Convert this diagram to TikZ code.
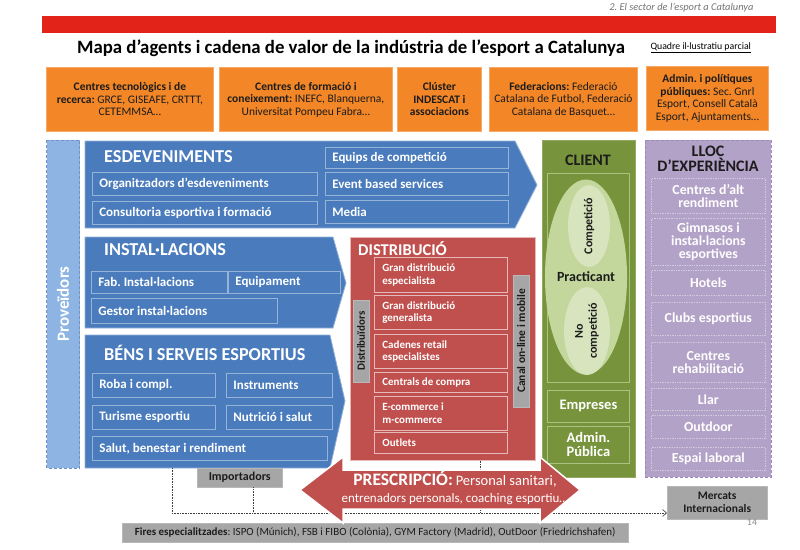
\documentclass[tikz,border=0pt]{standalone}
\usepackage{fontspec}
\setmainfont{Carlito}
\usepackage{xcolor}
\usepackage{tikz}
\usetikzlibrary{calc}
\tikzset{>=latex}
\usetikzlibrary{arrows.meta}
\usetikzlibrary{shapes.geometric}
\frenchspacing

\definecolor{barred}{HTML}{E2231A}
\definecolor{orangefill}{HTML}{F38626}
\definecolor{bluefill}{HTML}{4A7CBD}
\definecolor{blueline}{HTML}{95B3D7}
\definecolor{provfill}{HTML}{8DB4E2}
\definecolor{provline}{HTML}{6F93C6}
\definecolor{redfill}{HTML}{C0504D}
\definecolor{redline}{HTML}{E6B9B8}
\definecolor{greenfill}{HTML}{77933C}
\definecolor{greenline}{HTML}{A9C47F}
\definecolor{greenlight}{HTML}{C3D69B}
\definecolor{greenpale}{HTML}{D7E4BD}
\definecolor{purplefill}{HTML}{B3A2C7}
\definecolor{purpleline}{HTML}{D3CAE0}
\definecolor{purpledash}{HTML}{9C86BB}
\definecolor{greyfill}{HTML}{A6A6A6}
\definecolor{darktext}{HTML}{1C1C1C}

\tikzset{
  orangebox/.style={draw=orangefill!70!white, line width=0.8pt, fill=orangefill, text=darktext, anchor=north west, align=center, inner sep=0pt, font=\fontsize{11.5}{12.5}\selectfont},
  chevron/.style={fill=bluefill, draw=blueline, line width=0.8pt},
  bluetitle/.style={text=white, anchor=west, inner sep=0pt, font=\fontsize{18.2}{19}\selectfont\bfseries},
  bluebox/.style={draw=blueline, line width=0.7pt, text=white, anchor=north west, align=flush left, inner xsep=7pt, inner ysep=0pt, font=\fontsize{13}{14}\selectfont\bfseries},
  redbox/.style={draw=redline, line width=0.7pt, text=white, anchor=north west, align=flush left, inner xsep=8pt, inner ysep=0pt, font=\fontsize{11}{12.5}\selectfont\bfseries},
  greybar/.style={fill=greyfill, draw=greyfill!80!white, text=darktext, inner sep=0pt, font=\fontsize{12}{12}\selectfont\bfseries},
  greenbox/.style={draw=greenline, line width=0.8pt, text=white, anchor=north west, align=center, inner sep=0pt, font=\fontsize{14.5}{14}\selectfont\bfseries},
  purplebox/.style={draw=purpleline, densely dotted, line width=0.7pt, text=white, anchor=north west, align=center, inner sep=0pt, font=\fontsize{13.8}{13.3}\selectfont\bfseries},
  dotline/.style={densely dotted, line width=0.6pt, draw=black!75},
}

\begin{document}
\begin{tikzpicture}[x=1pt,y=-1pt]
\useasboundingbox (0,0) rectangle (800,549);
\fill[white] (0,0) rectangle (800,549);

\node[anchor=east, text=black!55, font=\fontsize{10.4}{11}\selectfont\itshape] (chapter) at (757,8) {2. El sector de l’esport a Catalunya};
\fill[barred] (42,16) rectangle (776,33);
\node[font=\fontsize{18.8}{19}\selectfont\bfseries] (maintitle) at (351,48) {Mapa d’agents i cadena de valor de la indústria de l’esport a Catalunya};
\node[anchor=west, font=\fontsize{9.8}{10}\selectfont] (quadre) at (647,48) {\underline{Quadre il·lustratiu parcial}};

\node[orangebox, minimum width=167, minimum height=64] (recerca) at (46,67) {\textbf{Centres tecnològics i de}\\\textbf{recerca:} GRCE, GISEAFE, CRTTT,\\CETEMMSA…};
\node[orangebox, minimum width=173, minimum height=64] (formacio) at (219,67) {\textbf{Centres de formació i}\\\textbf{coneixement:} INEFC, Blanquerna,\\Universitat Pompeu Fabra…};
\node[orangebox, minimum width=84, minimum height=64] (cluster) at (397,67) {\textbf{Clúster}\\\textbf{INDESCAT i}\\\textbf{associacions}};
\node[orangebox, minimum width=148, minimum height=64] (federacions) at (489,67) {\textbf{Federacions:} Federació\\Catalana de Futbol, Federació\\Catalana de Basquet…};
\node[orangebox, minimum width=122, minimum height=64] (admin) at (646,66) {\textbf{Admin. i polítiques}\\\textbf{públiques:} Sec. Gnrl\\Esport, Consell Català\\Esport, Ajuntaments…};

\node[fill=provfill, draw=provline, densely dashed, line width=0.6pt, rotate=90, minimum width=328, minimum height=33, text=white, font=\fontsize{17}{18}\selectfont\bfseries] (proveidors) at (63,304) {Proveïdors};

\draw[chevron] (85,141) -- (515,141) -- (537,185) -- (515,228) -- (85,228) -- cycle;
\node[bluetitle] (esdeveniments) at (104,157) {ESDEVENIMENTS};
\node[bluebox, minimum width=225, text width=211pt, minimum height=23] (organitzadors) at (92,172) {Organitzadors d’esdeveniments};
\node[bluebox, minimum width=225, text width=211pt, minimum height=23] (consultoria) at (92,201) {Consultoria esportiva i formació};
\node[bluebox, minimum width=183, text width=169pt, minimum height=21] (equips) at (325,147) {Equips de competició};
\node[bluebox, minimum width=183, text width=169pt, minimum height=23] (eventbased) at (325,172) {Event based services};
\node[bluebox, minimum width=183, text width=169pt, minimum height=23] (media) at (325,200) {Media};

\draw[chevron] (85,237) -- (333,237) -- (346,283) -- (333,328) -- (85,328) -- cycle;
\node[bluetitle] (installacions) at (104,250) {INSTAL·LACIONS};
\node[bluebox, minimum width=136, text width=122pt, minimum height=22] (fabinst) at (91,271) {Fab. Instal·lacions};
\node[bluebox, minimum width=112, text width=98pt, minimum height=22] (equipament) at (228,271) {Equipament};
\node[bluebox, minimum width=186, text width=172pt, minimum height=25] (gestor) at (91,298) {Gestor instal·lacions};

\draw[chevron] (85,335) -- (330,335) -- (345,401) -- (330,468) -- (85,468) -- cycle;
\node[bluetitle] (bens) at (104,353) {BÉNS I SERVEIS ESPORTIUS};
\node[bluebox, minimum width=123, text width=109pt, minimum height=24] (roba) at (92,373) {Roba i compl.};
\node[bluebox, minimum width=106, text width=92pt, minimum height=24] (instruments) at (226,373) {Instruments};
\node[bluebox, minimum width=123, text width=109pt, minimum height=24] (turisme) at (92,405) {Turisme esportiu};
\node[bluebox, minimum width=106, text width=92pt, minimum height=24] (nutricio) at (226,405) {Nutrició i salut};
\node[bluebox, minimum width=235, text width=221pt, minimum height=24] (salut) at (92,436) {Salut, benestar i rendiment};
\coordinate (bensfoot) at (172,468);

\node[fill=redfill, draw=redline, line width=0.7pt, anchor=north west, minimum width=185, minimum height=223] (distribucio) at (350,237) {};
\node[bluetitle, font=\fontsize{16.5}{17}\selectfont\bfseries] (distribtitle) at (358,249) {DISTRIBUCIÓ};
\node[redbox, minimum width=133, text width=117pt, minimum height=35] (granesp) at (374,257) {Gran distribució\\especialista};
\node[redbox, minimum width=133, text width=117pt, minimum height=34] (grangen) at (374,295) {Gran distribució\\generalista};
\node[redbox, minimum width=133, text width=117pt, minimum height=34] (cadenes) at (374,334) {Cadenes retail\\especialistes};
\node[redbox, minimum width=133, text width=117pt, minimum height=20] (centrals) at (374,372) {Centrals de compra};
\node[redbox, minimum width=133, text width=117pt, minimum height=34] (ecommerce) at (374,396) {E-commerce i\\m-commerce};
\node[redbox, minimum width=133, text width=117pt, minimum height=21] (outlets) at (374,432) {Outlets};
\node[greybar, rotate=90, minimum width=82, minimum height=16, font=\fontsize{11}{12}\selectfont\bfseries] (distribuidors) at (361,341) {Distribuïdors};
\node[greybar, rotate=90, minimum width=132, minimum height=16, font=\fontsize{11.5}{12}\selectfont\bfseries] (canal) at (521,341) {Canal on-line i mobile};

\node[fill=greenfill, draw=greenfill!80!white, anchor=north west, minimum width=93, minimum height=337] (client) at (542,140) {};
\node[text=darktext, font=\fontsize{16}{16}\selectfont\bfseries] (clienttitle) at (588,160) {CLIENT};
\node[draw=greenline, line width=0.8pt, anchor=north west, minimum width=82, minimum height=209] (practicantbox) at (547,173) {};
\node[ellipse, fill=greenlight, inner sep=0pt, minimum width=68, minimum height=195, text=darktext, font=\fontsize{14}{14}\selectfont\bfseries] (practicant) at (586,277) {Practicant};
\node[ellipse, fill=greenpale, rotate=90, inner sep=0pt, minimum width=82, minimum height=42, text=darktext, font=\fontsize{12}{12}\selectfont\bfseries] (competicio) at (589,226) {Competició};
\node[ellipse, fill=greenpale, rotate=90, inner sep=0pt, minimum width=88, minimum height=46, align=center, text=darktext, font=\fontsize{12}{14}\selectfont\bfseries] (nocompeticio) at (587,331) {No\\competició};
\node[greenbox, minimum width=82, minimum height=32] (empreses) at (547,390) {Empreses};
\node[greenbox, minimum width=82, minimum height=37] (adminpublica) at (547,426) {Admin.\\Pública};

\node[fill=purplefill, draw=purpledash, densely dashed, line width=0.7pt, anchor=north west, minimum width=126, minimum height=337] (lloc) at (645,140) {};
\node[text=darktext, align=center, font=\fontsize{16}{15}\selectfont\bfseries] (lloctitle) at (708,159) {LLOC\\D’EXPERIÈNCIA};
\node[purplebox, minimum width=114, minimum height=35] (altrend) at (651,178) {Centres d’alt\\rendiment};
\node[purplebox, minimum width=114, minimum height=47] (gimnasos) at (651,218) {Gimnasos i\\instal·lacions\\esportives};
\node[purplebox, minimum width=114, minimum height=25] (hotels) at (651,270) {Hotels};
\node[purplebox, minimum width=114, minimum height=33] (clubs) at (651,302) {Clubs esportius};
\node[purplebox, minimum width=114, minimum height=40] (rehab) at (651,342) {Centres\\rehabilitació};
\node[purplebox, minimum width=114, minimum height=22] (llar) at (651,388) {Llar};
\node[purplebox, minimum width=114, minimum height=23] (outdoor) at (651,415) {Outdoor};
\node[purplebox, minimum width=114, minimum height=23] (laboral) at (651,447) {Espai laboral};

\node[greybar, anchor=north west, minimum width=85, minimum height=19] (importadors) at (197,468) {Importadors};
\node[greybar, anchor=north west, minimum width=100, minimum height=33, align=center, font=\fontsize{11.5}{13}\selectfont\bfseries] (mercats) at (667,486) {Mercats\\Internacionals};
\node[greybar, anchor=north west, minimum width=506, minimum height=19, font=\fontsize{11}{11}\selectfont] (fires) at (122,523) {\textbf{Fires especialitzades}: ISPO (Múnich), FSB i FIBO (Colònia), GYM Factory (Madrid), OutDoor (Friedrichshafen)};

\coordinate (junction) at (172,513);
\coordinate (impfoot) at ($(importadors.south)+(13.5,0)$);
\coordinate (distfoot) at ($(distribucio.south)+(37.5,0)$);
\draw[dotline] (bensfoot) -- (junction);
\draw[dotline] (impfoot) -- (impfoot |- junction);
\draw[dotline] (distfoot) -- (distfoot |- junction);
\draw[dotline, -{Straight Barb[length=4pt, width=7pt]}] (junction) -- (junction -| mercats.west);

\fill[redfill, draw=white, line width=1.5pt] (300,490) -- (343,457) -- (343,470) -- (540,470) -- (540,457) -- (580,490) -- (540,523) -- (540,509) -- (343,509) -- (343,523) -- cycle;
\node[text=white, align=center, font=\fontsize{13}{17.5}\selectfont] (prescripcio) at (455,488) {{\fontsize{17.5}{17.5}\selectfont\bfseries PRESCRIPCIÓ:} {\fontsize{14.5}{17.5}\selectfont Personal sanitari,}\\entrenadors personals, coaching esportiu…};

\node[text=black!45, font=\fontsize{10}{10}\selectfont] (pagenum) at (752,522) {14};
\end{tikzpicture}
\end{document}
